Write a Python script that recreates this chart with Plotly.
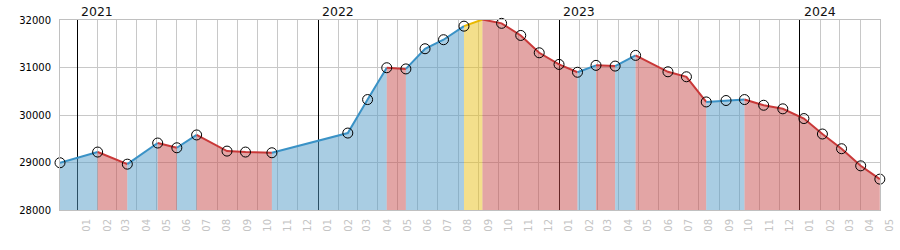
import plotly.graph_objects as go

# ---- data ----
dates = ["2020-12-06", "2021-02-01", "2021-03-18", "2021-05-03", "2021-06-01",
         "2021-07-01", "2021-08-16", "2021-09-13", "2021-10-23", "2022-02-15",
         "2022-03-17", "2022-04-15", "2022-05-14", "2022-06-12", "2022-07-10",
         "2022-08-10", "2022-09-07", "2022-10-06", "2022-11-04", "2022-12-02",
         "2023-01-01", "2023-01-29", "2023-02-26", "2023-03-27", "2023-04-27",
         "2023-06-15", "2023-07-13", "2023-08-12", "2023-09-11", "2023-10-09",
         "2023-11-07", "2023-12-06", "2024-01-07", "2024-02-04", "2024-03-04",
         "2024-04-02", "2024-05-01"]
values = [28995, 29220, 28965, 29410, 29310, 29580, 29240, 29220, 29205, 29620,
          30325, 30995, 30970, 31395, 31585, 31870, 32010, 31930, 31675, 31310,
          31065, 30900, 31045, 31030, 31255, 30910, 30805, 30275, 30305, 30325,
          30205, 30130, 29925, 29600, 29290, 28930, 28650]
year_marks = ["2021", "2022", "2023", "2024"]
y_ticks = [28000, 29000, 30000, 31000, 32000]

# ---- styles ----
styles = {
    "up":   dict(line="#3a92c6", fill="rgba(83,155,199,0.5)"),
    "down": dict(line="#c93838", fill="rgba(199,75,75,0.5)"),
    "peak": dict(line="#e8b800", fill="rgba(231,191,25,0.5)"),
}

vmax = max(values)
kinds = []
for i in range(len(values) - 1):
    if values[i + 1] == vmax:
        kinds.append("peak")
    elif values[i + 1] >= values[i]:
        kinds.append("up")
    else:
        kinds.append("down")

groups = []
start = 0
for i in range(1, len(kinds) + 1):
    if i == len(kinds) or kinds[i] != kinds[start]:
        groups.append((kinds[start], start, i))
        start = i

fig = go.Figure()
# invisible trace so the overlaying year-grid axis is drawn
fig.add_trace(go.Scatter(x=[dates[0]], y=[values[0]], xaxis="x2", mode="markers",
                         marker=dict(opacity=0), hoverinfo="skip", showlegend=False))
for kind, a, b in groups:
    st = styles[kind]
    fig.add_trace(go.Scatter(
        x=dates[a:b + 1], y=values[a:b + 1], mode="lines",
        line=dict(color=st["line"], width=2),
        fill="tozeroy", fillcolor=st["fill"],
        hoverinfo="skip", showlegend=False,
    ))

fig.add_trace(go.Scatter(
    x=dates, y=values, mode="markers",
    marker=dict(symbol="circle-open", size=10, color="black", line=dict(width=1)),
    cliponaxis=False, hoverinfo="skip", showlegend=False,
))

for yr in year_marks:
    fig.add_annotation(x=yr + "-01-01", y=1, xref="x", yref="paper",
                       text=yr, showarrow=False, xanchor="left", yanchor="bottom",
                       xshift=2, yshift=-1,
                       font=dict(family="DejaVu Sans", size=12.5, color="#111"))

xrange = [dates[0], "2024-05-01 06:00"]
fig.update_layout(
    width=900, height=250,
    margin=dict(l=60, r=20, t=20, b=40),
    paper_bgcolor="white", plot_bgcolor="white",
    font=dict(family="DejaVu Sans", size=10, color="black"),
    showlegend=False,
    xaxis=dict(
        type="date", range=xrange, automargin=False,
        tick0="2021-01-01", dtick="M1", tickformat="%m", tickangle=-90,
        ticklabelshift=10, ticks="outside", ticklen=4, tickcolor="rgba(0,0,0,0)",
        tickfont=dict(color="#c4c4c4", size=10),
        showgrid=True, gridcolor="#c8c8c8", gridwidth=1,
        showline=True, linecolor="#c0c0c0", linewidth=1, mirror=True,
        zeroline=False,
    ),
    xaxis2=dict(
        type="date", range=xrange, overlaying="x", matches="x", side="top",
        automargin=False,
        tick0="2021-01-01", dtick="M12", showticklabels=False, ticks="",
        showgrid=True, gridcolor="black", gridwidth=1,
        showline=False, zeroline=False,
    ),
    yaxis=dict(
        range=[28000, 32000], tickvals=y_ticks, tickformat="d", automargin=False,
        ticks="outside", ticklen=6, tickcolor="rgba(0,0,0,0)",
        showgrid=True, gridcolor="#c8c8c8", gridwidth=1,
        showline=True, linecolor="#c0c0c0", linewidth=1, mirror=True,
        zeroline=False,
    ),
)

fig.write_html("out.html")
